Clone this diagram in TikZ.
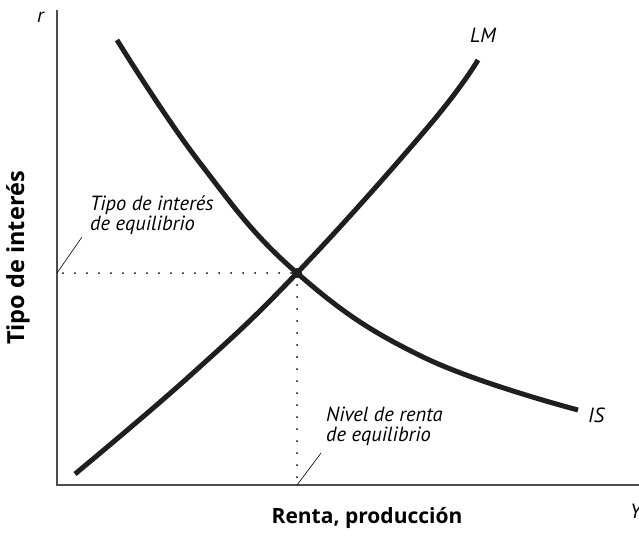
\documentclass[tikz,border=0pt]{standalone}
\usepackage{fontspec}
\setmainfont{PT Sans}
\newfontfamily\axisfont{Open Sans}
\usetikzlibrary{positioning}

\begin{document}
\begin{tikzpicture}[x=1pt, y=-1pt,
    axis/.style={draw=black!70, line width=1.3pt},
    curve/.style={draw=black!88, line width=5pt},
    guide/.style={draw=black, line width=2pt, line cap=round, dash pattern=on 0pt off 12pt},
    leader/.style={draw=black, line width=0.6pt},
    lbl/.style={font=\itshape\fontsize{20.5}{20}\selectfont, align=left, inner sep=0pt},
    axlbl/.style={font=\axisfont\bfseries\fontsize{21}{24}\selectfont, inner sep=0pt}
]
    \useasboundingbox (0,0) rectangle (639,535);

    % ejes
    \coordinate (O) at (57,485);
    \coordinate (rtop) at (57,10);
    \coordinate (Yend) at (639,485);
    \draw[axis] (rtop) -- (O) -- (Yend);
    \node[lbl, anchor=base east] (r) at (44,23) {r};
    \node[lbl, anchor=base west] (Y) at (630,518) {Y};
    \node[axlbl, font=\axisfont\bfseries\fontsize{23.5}{26}\selectfont, rotate=90] (ylabel) at (18,258) {Tipo de interés};
    \node[axlbl, anchor=base] (xlabel) at (367,523) {Renta, producción};

    % equilibrio
    \coordinate (eq) at (297,273);
    \coordinate (eqr) at (57,273);
    \coordinate (eqY) at (297,485);
    \draw[guide, dash phase=6pt] (eqr) -- (eq);
    \draw[guide] (eq) -- (eqY);

    % curvas IS y LM
    \draw[curve] plot[smooth, tension=0.7] coordinates {(117,40) (200,163) (297,273) (423,357) (578,410)};
    \draw[curve] plot[smooth, tension=0.7] coordinates {(75,474) (193,373) (297,273) (428,127) (478,60)};
    \fill[black!88] (eq) circle (5);
    \node[lbl, anchor=base west] (IS) at (588,422) {IS};
    \node[lbl, anchor=base west] (LM) at (470,43) {LM};

    % rotulos de equilibrio
    \node[lbl, anchor=base west] (tipoeq) at (90,230) {Tipo de interés\\de equilibrio};
    \node[lbl, anchor=base west] (niveleq) at (326,441) {Nivel de renta\\de equilibrio};
    \coordinate (tipoend) at (82,237);
    \coordinate (nivelend) at (321,453);
    \draw[leader] (eqr) -- (tipoend);
    \draw[leader] (eqY) -- (nivelend);
\end{tikzpicture}
\end{document}
